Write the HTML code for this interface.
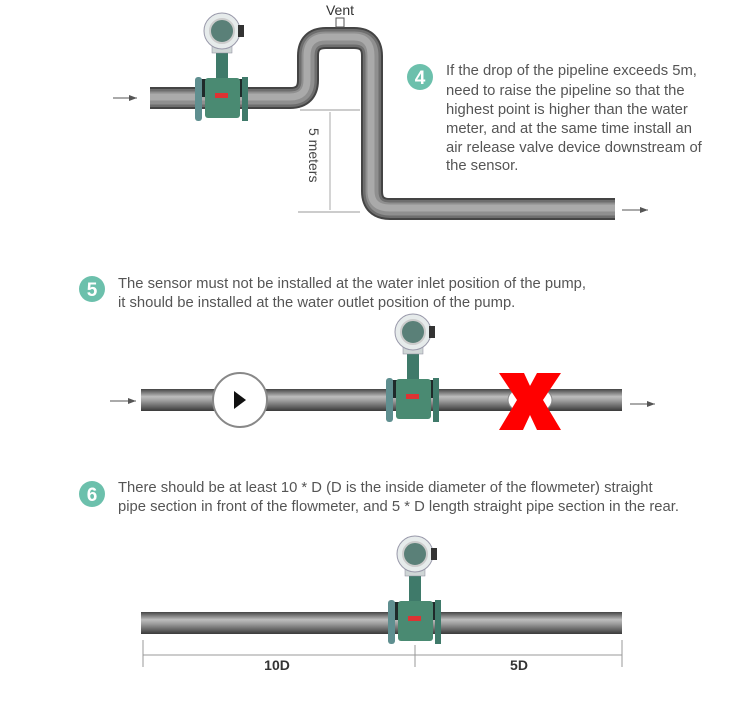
<!DOCTYPE html>
<html><head><meta charset="utf-8"><style>
html,body{margin:0;padding:0;background:#fff;}
svg{display:block;font-family:"Liberation Sans",sans-serif;}
.t{font-size:14.8px;fill:#555;}
</style></head><body>
<svg width="750" height="707" viewBox="0 0 750 707">
<defs>
<linearGradient id="ph" x1="0" y1="0" x2="0" y2="1">
<stop offset="0" stop-color="#444"/><stop offset="0.35" stop-color="#bdbdbd"/><stop offset="0.55" stop-color="#9a9a9a"/><stop offset="1" stop-color="#3a3a3a"/></linearGradient>
<g id="fm">
<rect x="-6" y="-50" width="12" height="30" fill="#3f7a6a"/>
<rect x="-10" y="-54" width="20" height="8" fill="#cfd6d6" stroke="#889" stroke-width="0.5"/>
<circle cx="0" cy="-68" r="18" fill="#e6ebeb" stroke="#99a" stroke-width="1"/>
<circle cx="0" cy="-68" r="12" fill="#5a8078" stroke="#ccc" stroke-width="2"/>
<rect x="16" y="-74" width="6" height="12" fill="#333"/>
<rect x="-25" y="-20" width="50" height="18" fill="#1f2a2a"/>
<rect x="-27" y="-22" width="7" height="44" rx="3" fill="#5f8f90"/>
<rect x="20" y="-22" width="6" height="44" fill="#3f7a6a"/>
<rect x="-17" y="-21" width="35" height="40" rx="3" fill="#4a8a72"/>
<rect x="-7" y="-6" width="13" height="5" fill="#d33"/>
</g>
<marker id="ar" markerWidth="8" markerHeight="6" refX="8" refY="3" orient="auto"><path d="M0,0 L8,3 L0,6 z" fill="#555"/></marker>
</defs>

<!-- Diagram 1 -->
<g>
<line x1="113" y1="98" x2="137" y2="98" stroke="#555" marker-end="url(#ar)"/>
<g fill="none" stroke-linejoin="round">
<path d="M150,98 L290,98 Q308,98 308,80 L308,56 Q308,38 326,38 L354,38 Q372,38 372,56 L372,191 Q372,209 390,209 L615,209" stroke="#444" stroke-width="22"/>
<path d="M150,98 L290,98 Q308,98 308,80 L308,56 Q308,38 326,38 L354,38 Q372,38 372,56 L372,191 Q372,209 390,209 L615,209" stroke="#6e6e6e" stroke-width="18"/>
<path d="M150,98 L290,98 Q308,98 308,80 L308,56 Q308,38 326,38 L354,38 Q372,38 372,56 L372,191 Q372,209 390,209 L615,209" stroke="#8f8f8f" stroke-width="13"/>
<path d="M150,97 L290,97 Q307,97 307,80 L307,56 Q307,37 326,37 L354,37 Q371,37 371,56 L371,191 Q371,208 390,208 L615,208" stroke="#aaa" stroke-width="7"/>
</g>
<rect x="336" y="18" width="8" height="9" fill="#fff" stroke="#555"/>
<text x="340" y="15" text-anchor="middle" font-size="14" fill="#333">Vent</text>
<line x1="622" y1="210" x2="648" y2="210" stroke="#555" marker-end="url(#ar)"/>
<use href="#fm" x="222" y="99"/>
<line x1="300" y1="110" x2="360" y2="110" stroke="#999"/>
<line x1="298" y1="212" x2="360" y2="212" stroke="#999"/>
<line x1="330" y1="112" x2="330" y2="210" stroke="#aaa"/>
<text transform="translate(309,128) rotate(90)" font-size="14" fill="#444">5 meters</text>
<circle cx="420" cy="77" r="13" fill="#6cc0ac"/>
<text x="420" y="84" text-anchor="middle" font-size="19" font-weight="bold" fill="#fff">4</text>
<g class="t">
<text x="446" y="75">If the drop of the pipeline exceeds 5m,</text>
<text x="446" y="95">need to raise the pipeline so that the</text>
<text x="446" y="114">highest point is higher than the water</text>
<text x="446" y="133">meter, and at the same time install an</text>
<text x="446" y="152">air release valve device downstream of</text>
<text x="446" y="170">the sensor.</text>
</g>
</g>

<!-- Diagram 2 -->
<g>
<circle cx="92" cy="289" r="13" fill="#6cc0ac"/>
<text x="92" y="296" text-anchor="middle" font-size="19" font-weight="bold" fill="#fff">5</text>
<g class="t">
<text x="118" y="288">The sensor must not be installed at the water inlet position of the pump,</text>
<text x="118" y="307">it should be installed at the water outlet position of the pump.</text>
</g>
<line x1="110" y1="401" x2="136" y2="401" stroke="#555" marker-end="url(#ar)"/>
<rect x="141" y="389" width="481" height="22" fill="url(#ph)"/>
<circle cx="240" cy="400" r="27" fill="#fff" stroke="#888" stroke-width="2"/>
<path d="M246,400 L234,391 L234,409z" fill="#111"/>
<use href="#fm" x="413" y="400"/>
<ellipse cx="530" cy="400" rx="22" ry="14" fill="#fff" stroke="#888"/>
<path d="M499,373 L524,373 L530,386 L537,373 L561,373 L543,400 L561,430 L537,430 L530,415 L523,430 L499,430 L517,400z" fill="#f00"/>
<line x1="630" y1="404" x2="655" y2="404" stroke="#555" marker-end="url(#ar)"/>
</g>

<!-- Diagram 3 -->
<g>
<circle cx="92" cy="494" r="13" fill="#6cc0ac"/>
<text x="92" y="501" text-anchor="middle" font-size="19" font-weight="bold" fill="#fff">6</text>
<g class="t">
<text x="118" y="492">There should be at least 10 * D (D is the inside diameter of the flowmeter) straight</text>
<text x="118" y="511">pipe section in front of the flowmeter, and 5 * D length straight pipe section in the rear.</text>
</g>
<rect x="141" y="612" width="481" height="22" fill="url(#ph)"/>
<use href="#fm" x="415" y="622"/>
<g stroke="#999">
<line x1="143" y1="640" x2="143" y2="667"/>
<line x1="415" y1="645" x2="415" y2="667"/>
<line x1="622" y1="640" x2="622" y2="667"/>
<line x1="143" y1="655" x2="622" y2="655"/>
</g>
<text x="277" y="670" text-anchor="middle" font-size="14" font-weight="bold" fill="#333">10D</text>
<text x="519" y="670" text-anchor="middle" font-size="14" font-weight="bold" fill="#333">5D</text>
</g>
</svg>
</body></html>
